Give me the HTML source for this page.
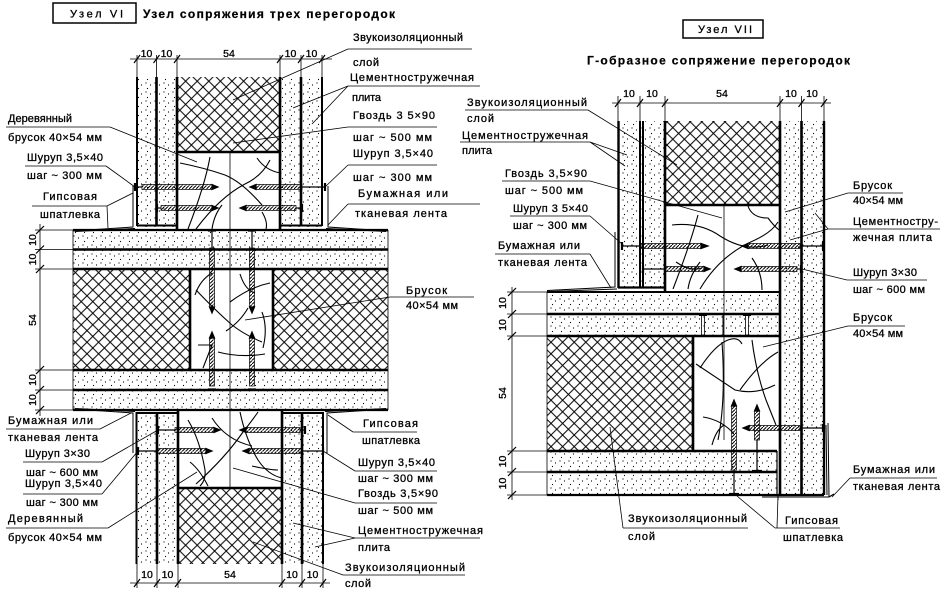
<!DOCTYPE html>
<html><head><meta charset="utf-8">
<style>
html,body{margin:0;padding:0;background:#fff;}
svg{display:block;}
text{font-family:"Liberation Sans","DejaVu Sans",sans-serif;font-size:11px;fill:#000;stroke:#000;stroke-width:0.3px;}
.d{font-size:10.5px;}
.t{font-size:12px;font-weight:bold;stroke-width:0.2px;}
</style></head><body>
<svg width="948" height="597" viewBox="0 0 948 597" xmlns="http://www.w3.org/2000/svg">
<defs>
<pattern id="h" patternUnits="userSpaceOnUse" width="11.6" height="11.6"><path d="M0,0L11.6,11.6M11.6,0L0,11.6" stroke="#000" stroke-width="1"/></pattern>
<pattern id="dt" patternUnits="userSpaceOnUse" width="9" height="9"><circle cx="2" cy="2" r="0.6"/><circle cx="6.5" cy="4" r="0.6"/><circle cx="3.5" cy="7.5" r="0.6"/></pattern>
<pattern id="th" patternUnits="userSpaceOnUse" width="3.5" height="3.5"><path d="M-0.5,4L4,-0.5" stroke="#000" stroke-width="1"/></pattern>
</defs>
<rect width="948" height="597" fill="#fff"/>

<!-- ================= LEFT FIGURE (Узел VI) ================= -->
<rect x="53" y="3" width="83" height="20" fill="none" stroke="#000" stroke-width="1.5"/>
<text x="70" y="17.5" textLength="53">Узел VI</text>
<text class="t" x="143" y="18" textLength="252">Узел сопряжения трех перегородок</text>

<rect x="137" y="77" width="40" height="150" fill="url(#dt)"/>
<rect x="280" y="77" width="42" height="150" fill="url(#dt)"/>
<rect x="177" y="77" width="103" height="75" fill="url(#h)"/>
<g stroke="#000" fill="none">
<path d="M137,77V226M322,77V226" stroke-width="2"/>
<path d="M156.5,77V226M177,77V230M280,77V230M301,77V226" stroke-width="2.6"/>
<path d="M177,152H280" stroke-width="2.6"/>
<path d="M137,225.5H177M280,225.5H322" stroke-width="2"/>
</g>

<rect x="73" y="230" width="315" height="39" fill="url(#dt)"/>
<rect x="73" y="370" width="315" height="40" fill="url(#dt)"/>
<rect x="73" y="269" width="117" height="101" fill="url(#h)"/>
<rect x="273" y="269" width="115" height="101" fill="url(#h)"/>
<g stroke="#000" fill="none">
<path d="M73,230H388M73,410H388" stroke-width="2.2"/>
<path d="M73,249.5H388M73,269H388M73,370H388M73,390H388" stroke-width="2.6"/>
<path d="M190,269V370M273,269V370" stroke-width="2.6"/>
<path d="M73,230V410M388,230V410" stroke-width="0.8"/>
</g>

<rect x="136" y="412" width="42" height="152" fill="url(#dt)"/>
<rect x="282" y="412" width="41" height="152" fill="url(#dt)"/>
<rect x="178" y="488" width="104" height="76" fill="url(#h)"/>
<g stroke="#000" fill="none">
<path d="M136.5,412V564M323,412V564" stroke-width="2"/>
<path d="M157,412V564M178,410V564M282,410V564M302,412V564" stroke-width="2.6"/>
<path d="M178,488H282" stroke-width="2.6"/>
<path d="M136,413H178M282,413H323" stroke-width="2"/>
</g>

<path d="M230,152V488" stroke="#000" stroke-width="0.8"/>

<g stroke="#000" stroke-width="1.1" fill="none">
<path d="M180,163Q205,168 225,175Q242,182 262,205"/>
<path d="M210,157Q205,185 188,229"/>
<path d="M257,158Q265,170 280,173"/>
<path d="M196,229Q220,197 245,184Q262,176 270,160"/>
<path d="M262,212Q268,222 266,229"/>
<path d="M212,229Q214,215 222,205"/>
<path d="M195,295Q200,280 212,273"/>
<path d="M196,290Q215,310 232,325Q245,335 262,342"/>
<path d="M230,302Q250,287 270,283"/>
<path d="M240,274Q245,290 255,293"/>
<path d="M198,345L212,345L203,368"/>
<path d="M218,352Q240,358 265,354"/>
<path d="M262,312Q268,328 263,348"/>
<path d="M226,331Q240,322 248,308"/>
<path d="M188,420Q200,440 205,470Q206,480 200,486"/>
<path d="M240,412Q246,440 258,460Q268,475 282,478"/>
<path d="M196,484Q225,458 243,432Q254,418 258,412"/>
<path d="M212,418Q226,440 252,446"/>
<path d="M252,466Q270,470 278,470"/>
<path d="M190,462Q200,470 208,486"/>
</g>

<g stroke="#000" fill="none" stroke-width="1.2">
<path d="M135,183V191" stroke-width="2.2"/><path d="M135,187H142"/>
<rect x="142" y="184.5" width="70" height="5" fill="url(#th)" stroke-width="0.7"/>
<path d="M212,184.5L218,187L212,189.5Z" fill="#000"/>
<path d="M325,183V191" stroke-width="2.2"/><path d="M302,187H325"/>
<rect x="256" y="184.5" width="46" height="5" fill="url(#th)" stroke-width="0.7"/>
<path d="M256,184.5L250,187L256,189.5Z" fill="#000"/>
<path d="M157,204V212" stroke-width="2.2"/>
<rect x="161" y="205.5" width="51" height="5" fill="url(#th)" stroke-width="0.7"/>
<path d="M157,208H161"/>
<path d="M212,205.5L218,208L212,210.5Z" fill="#000"/>
<path d="M302,204V212" stroke-width="2.2"/><path d="M296,208H302"/>
<rect x="246" y="205.5" width="50" height="5" fill="url(#th)" stroke-width="0.7"/>
<path d="M246,205.5L240,208L246,210.5Z" fill="#000"/>
<path d="M158,426V434" stroke-width="2.2"/><path d="M158,430H175"/>
<rect x="175" y="427.5" width="39" height="5" fill="url(#th)" stroke-width="0.7"/>
<path d="M214,427.5L220,430L214,432.5Z" fill="#000"/>
<path d="M305,426V434" stroke-width="2.2"/><path d="M300,430H305"/>
<rect x="246" y="427.5" width="54" height="5" fill="url(#th)" stroke-width="0.7"/>
<path d="M246,427.5L240,430L246,432.5Z" fill="#000"/>
<path d="M138,447V455" stroke-width="2.2"/><path d="M138,451H158"/>
<rect x="158" y="448.5" width="48" height="5" fill="url(#th)" stroke-width="0.7"/>
<path d="M206,448.5L212,451L206,453.5Z" fill="#000"/>
<path d="M323,447V455" stroke-width="2.2"/><path d="M302,451H323"/>
<rect x="249" y="448.5" width="53" height="5" fill="url(#th)" stroke-width="0.7"/>
<path d="M249,448.5L243,451L249,453.5Z" fill="#000"/>
<path d="M208,230.5H216M248,230.5H256" stroke-width="2.2"/>
<path d="M212,231V248M252,231V248"/>
<rect x="209.5" y="248" width="5" height="59" fill="url(#th)" stroke-width="0.7"/>
<rect x="249.5" y="248" width="5" height="59" fill="url(#th)" stroke-width="0.7"/>
<path d="M209.5,307L212,313L214.5,307ZM249.5,307L252,313L254.5,307Z" fill="#000"/>
<path d="M208,389.5H216M248,389.5H256" stroke-width="2.2"/>
<rect x="209.5" y="338" width="5" height="48" fill="url(#th)" stroke-width="0.7"/>
<rect x="249.5" y="338" width="5" height="48" fill="url(#th)" stroke-width="0.7"/>
<path d="M209.5,338L212,332L214.5,338ZM249.5,338L252,332L254.5,338Z" fill="#000"/>
</g>

<g stroke="#000" fill="none" stroke-width="1">
<path d="M73,231L133,227L133,186"/><path d="M75,231.5L135,228.5"/>
<path d="M388,231L328,227L328,186"/><path d="M386,231.5L326,228.5"/>
<path d="M73,409L133,413L133,453"/><path d="M75,408.5L135,411.5"/>
<path d="M388,409L327,413L327,453"/><path d="M386,408.5L325,411.5"/>
</g>

<g stroke="#000" fill="none" stroke-width="0.8">
<path d="M137,55V77M156.5,55V77M177,55V77M280,55V77M301,55V77M322,55V77"/>
<path d="M130,59H332"/>
<path d="M134,63L140,55M153.5,63L159.5,55M174,63L180,55M277,63L283,55M298,63L304,55M319,63L325,55" stroke-width="1.2"/>
<path d="M137,564V588M157,564V588M178,564V588M282,564V588M302,564V588M323,564V588"/>
<path d="M130,583H330"/>
<path d="M134,587L140,579M154,587L160,579M175,587L181,579M279,587L285,579M299,587L305,579M320,587L326,579" stroke-width="1.2"/>
<path d="M40,224V416"/>
<path d="M35,230H73M35,249.5H73M35,269H73M35,370H73M35,390H73M35,410H73"/>
<path d="M36,234L44,226M36,253.5L44,245.5M36,273L44,265M36,374L44,366M36,394L44,386M36,414L44,406" stroke-width="1.2"/>
</g>
<g text-anchor="middle">
<text class="d" x="146.5" y="57">10</text>
<text class="d" x="166.5" y="57">10</text>
<text class="d" x="229" y="57">54</text>
<text class="d" x="290.5" y="57">10</text>
<text class="d" x="311.5" y="57">10</text>
<text class="d" x="147" y="578">10</text>
<text class="d" x="167.5" y="578">10</text>
<text class="d" x="230" y="578">54</text>
<text class="d" x="292" y="578">10</text>
<text class="d" x="312.5" y="578">10</text>
<text class="d" transform="translate(36,240) rotate(-90)">10</text>
<text class="d" transform="translate(36,259.5) rotate(-90)">10</text>
<text class="d" transform="translate(36,320) rotate(-90)">54</text>
<text class="d" transform="translate(36,380) rotate(-90)">10</text>
<text class="d" transform="translate(36,400) rotate(-90)">10</text>
</g>

<g stroke="#000" fill="none" stroke-width="0.8">
<path d="M348,49H472M348,49L233,100"/>
<path d="M348,86H480M348,86L293,108M348,86L312,124"/>
<path d="M348,127H437M348,127L233,143"/>
<path d="M348,165H437M348,165L325,187"/>
<path d="M348,204H480M348,204L328,225"/>
<path d="M6,127H110M110,127L197,162"/>
<path d="M25,166H106M106,166L135,187"/>
<path d="M32,206H107M107,206L133,193M107,206L108,228"/>
<path d="M390,297H474M390,297L245,320"/>
<path d="M6,429H100M100,429L131,413"/>
<path d="M23,462H102M102,462L158,430"/>
<path d="M23,494H102M102,494L138,451"/>
<path d="M6,528H108M108,528L197,472"/>
<path d="M353,432H417M353,432L328,415"/>
<path d="M355,471H437M355,471L323,451"/>
<path d="M355,503H437M355,503L233,468"/>
<path d="M355,538H480M355,538L293,523M355,538L315,547"/>
<path d="M343,575H465M343,575L253,542"/>
</g>

<text x="353" y="41" textLength="110">Звукоизоляционный</text>
<text x="353" y="66" textLength="26">слой</text>
<text x="350" y="81" textLength="124">Цементностружечная</text>
<text x="352" y="101" textLength="29">плита</text>
<text x="353" y="119" textLength="82">Гвоздь 3 5×90</text>
<text x="353" y="141" textLength="79">шаг ~ 500 мм</text>
<text x="353" y="157" textLength="80">Шуруп 3,5×40</text>
<text x="353" y="181" textLength="79">шаг ~ 300 мм</text>
<text x="358" y="197" textLength="90">Бумажная или</text>
<text x="355" y="217" textLength="92">тканевая лента</text>
<text x="8" y="122" textLength="64">Деревянный</text>
<text x="8" y="141" textLength="94">брусок 40×54 мм</text>
<text x="27" y="161" textLength="76">Шуруп 3,5×40</text>
<text x="27" y="179" textLength="75">шаг ~ 300 мм</text>
<text x="43" y="200" textLength="54">Гипсовая</text>
<text x="40" y="218" textLength="60">шпатлевка</text>
<text x="406" y="294" textLength="41">Брусок</text>
<text x="406" y="309" textLength="52">40×54 мм</text>
<text x="8" y="424" textLength="85">Бумажная или</text>
<text x="8" y="441" textLength="90">тканевая лента</text>
<text x="25" y="457" textLength="65">Шуруп 3×30</text>
<text x="26" y="476" textLength="72">шаг ~ 600 мм</text>
<text x="25" y="487" textLength="77">Шуруп 3,5×40</text>
<text x="26" y="506" textLength="72">шаг ~ 300 мм</text>
<text x="8" y="522" textLength="75">Деревянный</text>
<text x="8" y="541" textLength="94">брусок 40×54 мм</text>
<text x="363" y="427" textLength="55">Гипсовая</text>
<text x="362" y="444" textLength="58">шпатлевка</text>
<text x="358" y="466" textLength="77">Шуруп 3,5×40</text>
<text x="358" y="482" textLength="75">шаг ~ 300 мм</text>
<text x="358" y="497" textLength="80">Гвоздь 3,5×90</text>
<text x="358" y="514" textLength="75">шаг ~ 500 мм</text>
<text x="358" y="534" textLength="125">Цементностружечная</text>
<text x="358" y="551" textLength="32">плита</text>
<text x="345" y="571" textLength="120">Звукоизоляционный</text>
<text x="345" y="587" textLength="26">слой</text>

<!-- ================= RIGHT FIGURE (Узел VII) ================= -->
<rect x="683" y="20" width="80" height="18" fill="none" stroke="#000" stroke-width="1.5"/>
<text x="698" y="33" textLength="54">Узел VII</text>
<text class="t" x="587" y="64.5" textLength="263">Г-образное сопряжение перегородок</text>

<rect x="618" y="121" width="47" height="167" fill="url(#dt)"/>
<rect x="780" y="121" width="44" height="374" fill="url(#dt)"/>
<rect x="665" y="121" width="115" height="84" fill="url(#h)"/>
<g stroke="#000" fill="none">
<path d="M618.5,121V288" stroke-width="2.4"/>
<path d="M640,121V288M643,121V288" stroke-width="2"/>
<path d="M665,121V292" stroke-width="2.6"/>
<path d="M780,121V495M801.5,121V495" stroke-width="2.6"/>
<path d="M824,121V495" stroke-width="2.4"/>
<path d="M665,205H780" stroke-width="2.6"/>
<path d="M618,287.5H665" stroke-width="2.2"/>
</g>

<rect x="547" y="292" width="233" height="44" fill="url(#dt)"/>
<rect x="547" y="451" width="230" height="44" fill="url(#dt)"/>
<rect x="547" y="336" width="146" height="115" fill="url(#h)"/>
<g stroke="#000" fill="none">
<path d="M547,292H780" stroke-width="2"/>
<path d="M547,314H780M547,336H780" stroke-width="2.6"/>
<path d="M693,336V451" stroke-width="2.6"/>
<path d="M547,451H777M547,472H777" stroke-width="2.6"/>
<path d="M547,495H824" stroke-width="2.2"/>
<path d="M547,292V495" stroke-width="0.8"/>
<path d="M777,451V495" stroke-width="1.2"/>
</g>

<path d="M724,205V440" stroke="#000" stroke-width="0.8"/>

<g stroke="#000" stroke-width="1.1" fill="none">
<path d="M672,225Q700,222 720,236Q745,252 768,245"/>
<path d="M698,215Q690,245 673,289"/>
<path d="M700,289Q720,255 755,240Q772,232 778,222"/>
<path d="M748,206Q752,218 768,218Q774,226 779,230"/>
<path d="M752,258Q762,272 762,290"/>
<path d="M676,262Q690,272 702,268"/>
<path d="M688,289Q690,275 700,262"/>
<path d="M700,368Q715,345 728,340Q738,336 742,344"/>
<path d="M696,364Q720,380 735,390Q755,395 775,385"/>
<path d="M722,342Q726,400 718,440"/>
<path d="M752,340Q756,372 766,400Q772,415 776,425"/>
<path d="M703,417Q722,420 734,434"/>
<path d="M712,445Q716,430 724,425"/>
<path d="M740,390Q760,362 778,352"/>
</g>

<g stroke="#000" fill="none" stroke-width="1.2">
<path d="M622,242V250" stroke-width="2.2"/><path d="M622,246H641"/>
<rect x="641" y="243.5" width="60" height="5" fill="url(#th)" stroke-width="0.7"/>
<path d="M701,243.5L708,246L701,248.5Z" fill="#000"/>
<path d="M823,242V250" stroke-width="2.2"/><path d="M800,246H823"/>
<rect x="748" y="243.5" width="52" height="5" fill="url(#th)" stroke-width="0.7"/>
<path d="M748,243.5L742,246L748,248.5Z" fill="#000"/>
<path d="M643,265V273" stroke-width="2.2"/><path d="M643,269H665"/>
<rect x="665" y="266.5" width="39" height="5" fill="url(#th)" stroke-width="0.7"/>
<path d="M704,266.5L710,269L704,271.5Z" fill="#000"/>
<path d="M801,265V273" stroke-width="2.2"/><path d="M797,269H801"/>
<rect x="741" y="266.5" width="56" height="5" fill="url(#th)" stroke-width="0.7"/>
<path d="M741,266.5L735,269L741,271.5Z" fill="#000"/>
<path d="M699,315H707M743,315H751" stroke-width="2"/>
<rect x="701.5" y="315" width="3" height="20" stroke-width="0.8"/>
<rect x="745.5" y="315" width="3" height="20" stroke-width="0.8"/>
<path d="M723,314V336" stroke-width="1"/>
<path d="M729,494H739" stroke-width="2.2"/><path d="M734,470V494"/>
<rect x="731.5" y="406" width="5" height="64" fill="url(#th)" stroke-width="0.7"/>
<path d="M731.5,406L734,400L736.5,406Z" fill="#000"/>
<path d="M752,471H762" stroke-width="2.2"/><path d="M757,440V471"/>
<rect x="754.5" y="411" width="5" height="29" fill="url(#th)" stroke-width="0.7"/>
<path d="M754.5,411L757,405L759.5,411Z" fill="#000"/>
<path d="M823,424V432" stroke-width="2.2"/><path d="M800,428H823"/>
<rect x="749" y="425.5" width="51" height="5" fill="url(#th)" stroke-width="0.7"/>
<path d="M749,425.5L743,428L749,430.5Z" fill="#000"/>
</g>

<g stroke="#000" fill="none" stroke-width="1">
<path d="M547,290.5L615,287L615,232"/><path d="M549,291.5L617,289"/>
<path d="M828,423L829,497L762,497"/><path d="M826,425L827,495"/>
<path d="M829,497L834,494" stroke-width="1.2"/>
<path d="M778,495V500"/>
</g>

<g stroke="#000" fill="none" stroke-width="0.8">
<path d="M618,96V121M640,96V121M665,96V121M780,96V121M801.5,96V121M824,96V121"/>
<path d="M612,103H831"/>
<path d="M615,107L621,99M637,107L643,99M662,107L668,99M777,107L783,99M798.5,107L804.5,99M821,107L827,99" stroke-width="1.2"/>
<path d="M512,287V500"/>
<path d="M507,292H547M507,314H547M507,336H547M507,451H547M507,472H547M507,495H547"/>
<path d="M508,296L516,288M508,318L516,310M508,340L516,332M508,455L516,447M508,476L516,468M508,499L516,491" stroke-width="1.2"/>
</g>
<g text-anchor="middle">
<text class="d" x="629" y="97">10</text>
<text class="d" x="652" y="97">10</text>
<text class="d" x="722" y="97">54</text>
<text class="d" x="791" y="97">10</text>
<text class="d" x="812" y="97">10</text>
<text class="d" transform="translate(506,303) rotate(-90)">10</text>
<text class="d" transform="translate(506,325) rotate(-90)">10</text>
<text class="d" transform="translate(506,393) rotate(-90)">54</text>
<text class="d" transform="translate(506,461.5) rotate(-90)">10</text>
<text class="d" transform="translate(506,483.5) rotate(-90)">10</text>
</g>

<g stroke="#000" fill="none" stroke-width="0.8">
<path d="M465,110H588M588,110L677,165"/>
<path d="M460,142H590M590,142L627,155M590,142L625,166"/>
<path d="M502,181H590M590,181L722,218"/>
<path d="M510,216H590M590,216L622,244"/>
<path d="M495,254H590M590,254L611,288"/>
<path d="M848,193H903M848,193L785,212"/>
<path d="M828,229H940M828,229L815,213M828,229L790,240"/>
<path d="M847,280H927M847,280L802,269"/>
<path d="M848,326H905M848,326L763,347"/>
<path d="M850,478H937M850,478L832,497"/>
<path d="M775,528H840M775,528L737,496M777,528L778,496"/>
<path d="M623,528H748M623,528L610,427"/>
</g>

<text x="467" y="106" textLength="120">Звукоизоляционный</text>
<text x="467" y="122" textLength="27">слой</text>
<text x="462" y="139" textLength="126">Цементностружечная</text>
<text x="462" y="154" textLength="30">плита</text>
<text x="505" y="177" textLength="82">Гвоздь 3,5×90</text>
<text x="505" y="194" textLength="78">шаг ~ 500 мм</text>
<text x="513" y="212" textLength="75">Шуруп 3 5×40</text>
<text x="513" y="229" textLength="74">шаг ~ 300 мм</text>
<text x="498" y="249" textLength="82">Бумажная или</text>
<text x="498" y="266" textLength="89">тканевая лента</text>
<text x="853" y="189" textLength="39">Брусок</text>
<text x="853" y="204" textLength="50">40×54 мм</text>
<text x="853" y="225" textLength="85">Цементностру-</text>
<text x="853" y="241" textLength="79">жечная плита</text>
<text x="853" y="276" textLength="64">Шуруп 3×30</text>
<text x="853" y="293" textLength="72">шаг ~ 600 мм</text>
<text x="853" y="321" textLength="39">Брусок</text>
<text x="853" y="337" textLength="50">40×54 мм</text>
<text x="853" y="473" textLength="82">Бумажная или</text>
<text x="853" y="490" textLength="87">тканевая лента</text>
<text x="785" y="524" textLength="53">Гипсовая</text>
<text x="783" y="541" textLength="60">шпатлевка</text>
<text x="628" y="522" textLength="119">Звукоизоляционный</text>
<text x="628" y="540" textLength="27">слой</text>
</svg>
</body></html>
